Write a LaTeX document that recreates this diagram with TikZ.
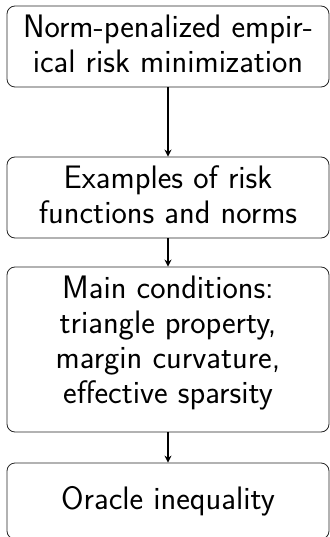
\documentclass[tikz,border=0pt]{standalone}
\usetikzlibrary{arrows.meta, positioning}
\begin{document}
\begin{tikzpicture}[
        x=1pt, y=1pt,
        every node/.style={font=\sffamily\fontsize{32.5}{35}\selectfont, align=center},
        block/.style={rectangle, rounded corners=8pt, draw=black!85, line width=0.8pt, minimum width=322pt, minimum height=81pt, inner sep=0pt},
        arr/.style={-{Stealth[length=7pt, width=7pt]}, line width=1.2pt}
    ]
        \useasboundingbox (0,0) rectangle (329,-537);
        % Bloques, de arriba abajo
        \node[block, text depth=6pt] (erm) at (168,-46.5) {Norm-penalized empir-\\ical risk minimization};
        \node[block, text depth=6pt] (ex)  at (168,-197.5) {Examples of risk\\functions and norms};
        \node[block, minimum height=165pt, text depth=20pt] (cond) at (168,-349.5) {Main conditions:\\triangle property,\\margin curvature,\\effective sparsity};
        \node[block, minimum height=76pt] (orc) at (168,-501) {Oracle inequality};

        \draw[arr] (erm) -- (ex);
        \draw[arr] (ex) -- (cond);
        \draw[arr] (cond) -- (orc);
    \end{tikzpicture}
\end{document}
